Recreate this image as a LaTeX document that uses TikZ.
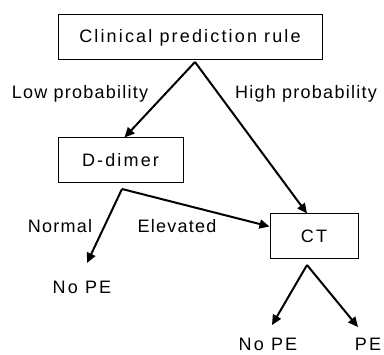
\documentclass[tikz,border=0pt]{standalone}
\usepackage{fontspec}
\setmainfont{Liberation Sans}[LetterSpace=7]
\usetikzlibrary{arrows.meta,calc}
\begin{document}
\begin{tikzpicture}[x=1pt,y=1pt,
  box/.style={draw,line width=1pt,rectangle,minimum height=45pt,inner sep=0pt,font=\fontsize{18}{21}\selectfont\addfontfeatures{LetterSpace=12}},
  lbl/.style={inner sep=0pt,font=\fontsize{18}{21}\selectfont},
  res/.style={inner sep=0pt,font=\fontsize{18}{21}\selectfont\addfontfeatures{LetterSpace=12}},
  arr/.style={line width=2pt,-{Triangle[length=10pt,width=9pt]}}]
\useasboundingbox (0,0) rectangle (384,-355);
\node[box,minimum width=264pt] (rule) at (190,-37.5) {Clinical prediction rule};
\node[box,minimum width=125pt] (ddimer) at (120.5,-160.5) {D-dimer};
\node[box,minimum width=88pt] (ct) at (314,-236.5) {CT};
\node[res] (nope1) at (82,-287) {No PE};
\node[res] (nope2) at (268,-344) {No PE};
\node[res] (pe) at (368,-344) {PE};
\node[lbl] (low) at (80,-94) {Low probability};
\node[lbl] (high) at (306,-94) {High probability};
\node[lbl] (normal) at (60,-226) {Normal};
\node[lbl] (elev) at (177,-226) {Elevated};
\coordinate (s1) at (195,-62);
\coordinate (s2) at (122,-189);
\coordinate (s3) at (307,-265);
\draw[arr] (s1) -- ($(ddimer.north)+(4,0)$);
\draw[arr] (s1) -- ($(ct.north)+(-7,0)$);
\draw[arr] (s2) -- ($(nope1.north)+(5,17.5)$);
\draw[arr] (s2) -- ($(ct.west)+(0,10)$);
\draw[arr] (s3) -- ($(nope2.north)+(4,12.5)$);
\draw[arr] (s3) -- ($(pe.north)+(-10,10.5)$);
\end{tikzpicture}
\end{document}
